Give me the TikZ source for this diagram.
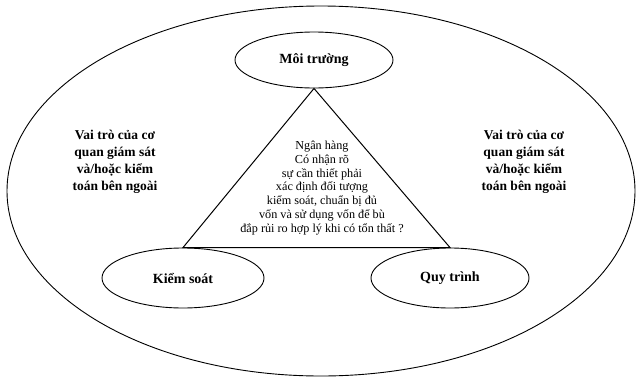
\documentclass[tikz,border=0pt]{standalone}
\usepackage{fontspec}
\setmainfont{Liberation Serif}
\usetikzlibrary{shapes,positioning}

\begin{document}
\begin{tikzpicture}[x=1pt, y=-1pt,
      oval/.style={ellipse, draw, line width=0.9pt, inner sep=0pt,
                   font=\bfseries\fontsize{14}{16}\selectfont},
      note/.style={align=center, font=\bfseries\fontsize{13.5}{17}\selectfont},
      core/.style={align=center, font=\fontsize{12.2}{13.7}\selectfont},
      edge/.style={line width=1pt},
    ]
    \useasboundingbox (0,0) rectangle (638,378);
    \node[oval, minimum width=628pt, minimum height=370pt] (outer) at (321,191) {};
    \node[oval, minimum width=158pt, minimum height=56pt] (env)  at (314,60)  {Môi trường};
    \node[oval, minimum width=162pt, minimum height=60pt] (ctrl) at (183,278) {Kiểm soát};
    \node[oval, minimum width=158pt, minimum height=60pt] (proc) at (450,278) {Quy trình};

    % bank at the centre of the three pillars
    \draw[edge] (env.south) -- (ctrl.north) -- (proc.north) -- cycle;
    \node[core] (bank) at (322,188) {Ngân hàng\\Có nhận rõ\\sự cần thiết phải\\xác định đối tượng\\
      kiểm soát, chuẩn bị đủ\\vốn và sử dụng vốn để bù\\đắp rủi ro hợp lý khi có tổn thất ?};

    \node[note] (left)  at (115,162) {Vai trò của cơ\\quan giám sát\\và/hoặc kiểm\\toán bên ngoài};
    \node[note] (right) at (524,162) {Vai trò của cơ\\quan giám sát\\và/hoặc kiểm\\toán bên ngoài};
  \end{tikzpicture}
\end{document}
